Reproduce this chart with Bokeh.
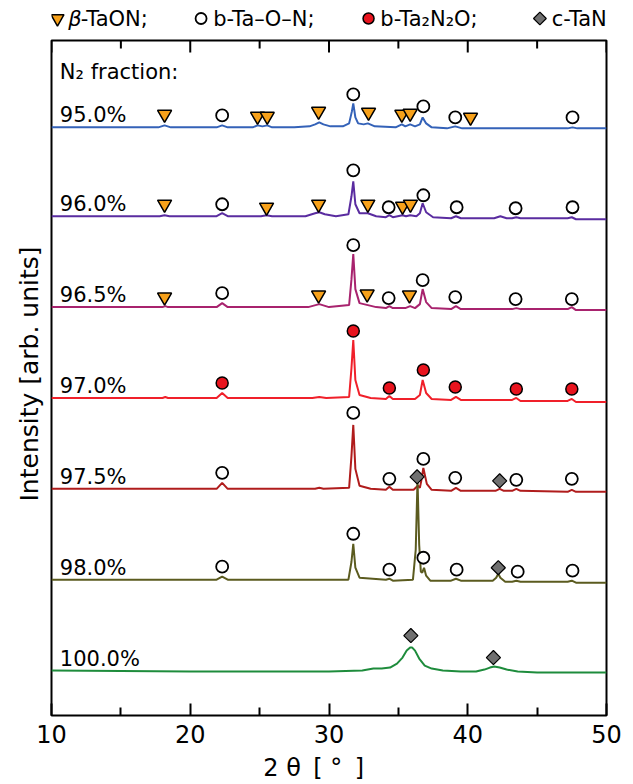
import math
from bokeh.plotting import figure
from bokeh.layouts import column
from bokeh.models import (Range1d, LinearAxis, FixedTicker, Label, ColumnDataSource, Title)
from bokeh.embed import file_html
from bokeh.resources import INLINE
from bokeh.core.properties import value

FONT = "DejaVu Sans"

# ---------------- data ----------------
fractions = ["95.0%", "96.0%", "96.5%", "97.0%", "97.5%", "98.0%", "100.0%"]
offsets = [589, 500, 409, 318, 227, 136, 45]
colors = ["#3462b8", "#5a2ca0", "#a8236e", "#f0202a", "#b01c1c", "#5b5b1f", "#1e8c3c"]

x_950 = [10, 14, 17.7, 18.15, 18.6, 21.9, 22.3, 22.7, 24.5, 24.85, 25.2, 25.55, 25.9,
         27.5, 28.6, 29.0, 29.3, 29.6, 30.1, 31.0, 31.45, 31.65, 31.75, 31.9, 32.1,
         32.5, 32.8, 33.3, 34.8, 35.25, 35.5, 35.85, 36.2, 36.55, 36.75, 37.0, 37.4,
         38.5, 39.1, 39.6, 42, 47.2, 47.55, 47.9, 50]
y_950 = [0, 0, 0, 2, 0, 0, 2, 0, 0, 2, 1, 2, 0,
         0, 1, 3, 5, 3, 1, 1, 4, 16, 24, 10, 4,
         3, 4, 1, 0, 3, 1, 3, 1, 3, 10, 4, 0,
         -1, 1, -1, -1, -1, 0, -1, -1]

x_960 = [10, 17.8, 18.15, 18.5, 21.9, 22.3, 22.7, 25.1, 25.5, 25.9, 28.3, 29.0, 29.3,
         29.7, 30.5, 31.4, 31.62, 31.75, 31.9, 32.2, 32.8, 33.4, 34.1, 34.35, 34.6,
         35.3, 35.55, 35.85, 36.3, 36.55, 36.75, 37.0, 37.5, 38.8, 39.15, 39.5, 41.9,
         42.35, 42.8, 43.2, 43.5, 43.8, 47.2, 47.5, 47.8, 50]
y_960 = [0, 0, 1, 0, 0, 3, 0, 0, 1, 0, 0, 3, 4,
         2, 0, 2, 20, 35, 12, 3, 3, 0, -1, 1, -1,
         1, 0, 1, 0, 3, 13, 4, -1, -2, 0, -2, -2,
         0, -2, -2, -1, -2, -2, -1, -3, -3]

x_965 = [10, 18.0, 18.2, 18.4, 21.9, 22.3, 22.7, 28.5, 29.3, 30.0, 31.45, 31.62, 31.75,
         31.9, 32.2, 32.8, 33.4, 34.1, 34.35, 34.6, 35.5, 35.85, 36.2, 36.55, 36.75,
         37.0, 37.4, 38.8, 39.15, 39.5, 43.2, 43.5, 43.8, 47.2, 47.5, 47.8, 50]
y_965 = [0, 0, 1, 0, 0, 4, 0, 0, 3, 0, 2, 28, 53,
         18, 4, 2, 0, -1, 1, -1, -1, 1, -1, 3, 18,
         5, -1, -2, 1, -2, -2, -1, -2, -2, 0, -3, -3]

x_970 = [10, 18.0, 18.2, 18.4, 21.9, 22.3, 22.7, 28.8, 29.3, 29.8, 31.45, 31.62, 31.75,
         31.9, 32.2, 33.0, 34.1, 34.35, 34.6, 36.2, 36.55, 36.75, 37.0, 37.4, 38.8,
         39.15, 39.5, 43.2, 43.5, 43.8, 47.2, 47.5, 47.8, 50]
y_970 = [0, 0, 1, 0, 0, 5, 0, 0, 1, 0, 1, 30, 58,
         18, 3, 0, -1, 2, -1, -1, 3, 18, 5, -1, -2,
         1, -2, -2, 0, -3, -3, -1, -4, -4]

x_975 = [10, 21.9, 22.3, 22.7, 29.0, 29.3, 29.6, 31.45, 31.62, 31.75, 31.9, 32.2, 33.0,
         34.1, 34.35, 34.6, 36.1, 36.4, 36.55, 36.65, 36.8, 37.05, 37.4, 38.8, 39.15,
         39.5, 42.0, 42.3, 42.6, 43.2, 43.5, 43.8, 47.2, 47.5, 47.8, 50]
y_975 = [0, 0, 6, 0, 0, 1, 0, 1, 33, 64, 20, 3, 0,
         -1, 2, -1, -1, 3, 1, 8, 21, 5, -1, -2, 1,
         -2, -2, 0, -2, -2, 0, -2, -3, -1, -3, -3]

x_980 = [10, 21.9, 22.3, 22.7, 31.4, 31.62, 31.75, 31.9, 32.2, 34.1, 34.35, 34.6, 36.05,
         36.25, 36.38, 36.5, 36.62, 36.72, 36.85, 37.0, 37.3, 38.8, 39.15, 39.5, 41.8,
         42.05, 42.2, 42.35, 42.7, 43.2, 43.5, 43.8, 47.2, 47.5, 47.8, 50]
y_980 = [0, 0, 3, 0, 0, 18, 36, 12, 2, 0, 1, -1, 0,
         30, 100, 35, 8, 7, 12, 4, -1, -1, 1, -1, -1,
         2, 6, 2, -2, -2, -1, -2, -2, -1, -3, -3]

x_1000 = [10, 20, 30, 32.4, 33.2, 33.8, 34.4, 34.9, 35.3, 35.6, 35.85, 36.0, 36.2, 36.5,
          36.9, 37.4, 38.2, 39.5, 40.6, 41.2, 41.6, 41.9, 42.3, 42.8, 43.6, 45, 50]
y_1000 = [0, -1, -1, 0, 2, 2, 3, 7, 13, 20, 23, 23, 20, 12,
          5, 2, 0, -1, -1, 1, 3, 4, 3, 1, -1, -2, -2]

curves_x = [x_950, x_960, x_965, x_970, x_975, x_980, x_1000]
curves_y = [y_950, y_960, y_965, y_970, y_975, y_980, y_1000]

# phase markers: curve index, 2theta, height above curve baseline
tri_curve = [0, 0, 0, 0, 0, 0, 0, 0, 1, 1, 1, 1, 1, 1, 2, 2, 2, 2]
tri_x = [18.15, 24.85, 25.55, 29.25, 32.85, 35.25, 35.85, 40.2,
         18.15, 25.5, 29.25, 32.8, 35.3, 35.87,
         18.15, 29.25, 32.75, 35.8]
tri_h = [13, 11, 11, 16, 15, 13, 14, 10,
         12, 9, 12, 12, 10, 12,
         10, 12, 13, 12]

circ_curve = [0, 0, 0, 0, 0,
              1, 1, 1, 1, 1, 1, 1,
              2, 2, 2, 2, 2, 2, 2,
              4, 4, 4, 4, 4, 4, 4,
              5, 5, 5, 5, 5, 5, 5]
circ_x = [22.3, 31.75, 36.8, 39.1, 47.55,
          22.3, 31.75, 34.3, 36.8, 39.2, 43.45, 47.55,
          22.3, 31.75, 34.3, 36.75, 39.1, 43.45, 47.5,
          22.3, 31.75, 34.35, 36.8, 39.1, 43.5, 47.5,
          22.3, 31.75, 34.35, 36.8, 39.2, 43.6, 47.55]
circ_h = [12, 33, 21, 10, 10,
          12, 46, 9, 21, 9, 8, 9,
          14, 62, 9, 27, 10, 8, 8,
          16, 76, 10, 30, 11, 9, 10,
          13, 46, 10, 22, 10, 8, 9]

red_curve = [3, 3, 3, 3, 3, 3, 3]
red_x = [22.3, 31.75, 34.35, 36.8, 39.1, 43.5, 47.5]
red_h = [15, 67, 10, 28, 11, 9, 9]

dia_curve = [4, 4, 5, 6, 6]
dia_x = [36.35, 42.3, 42.2, 35.9, 41.85]
dia_h = [12, 8, 12, 35, 13]

phase_symbols = ["β", "", "", ""]
phase_labels = ["-TaON;", "b-Ta–O–N;", "b-Ta₂N₂O;", "c-TaN"]

major_ticks = [10, 20, 30, 40, 50]
minor_ticks = [15, 25, 35, 45]

# ---------------- legend strip (above the frame) ----------------
LEG_H = 36
leg = figure(width=633, height=LEG_H, x_range=Range1d(10, 50), y_range=Range1d(0, LEG_H),
             x_axis_type=None, y_axis_type=None, output_backend="svg",
             toolbar_location=None, min_border_left=51, min_border_right=27,
             min_border_top=0, min_border_bottom=0)
leg.outline_line_color = None
leg.xgrid.visible = False
leg.ygrid.visible = False

ly = 18
leg.scatter([10.43], [ly], marker="inverted_triangle", size=13, fill_color="#f7a11a",
            line_color="black", line_width=1.5)
leg.scatter([20.78], [ly], marker="circle", size=11, fill_color="white",
            line_color="black", line_width=1.8)
leg.scatter([32.85], [ly], marker="circle", size=11, fill_color="#e8141e",
            line_color="black", line_width=1.5)
leg.scatter([45.2], [ly], marker="square", size=9, angle=math.pi / 4,
            fill_color="#707070", line_color="black", line_width=1.2)
leg.text(x=[11.2], y=[ly], text=[phase_symbols[0]], text_font=value(FONT),
         text_font_size=value("21px"), text_font_style="italic",
         text_baseline="middle", text_align="left", text_color="black")
leg.text(x=[12.1, 21.65, 33.7, 46.05], y=[ly] * 4, text=phase_labels,
         text_font=value(FONT), text_font_size=value("21px"),
         text_baseline="middle", text_align="left", text_color="black")

# ---------------- main figure ----------------
p = figure(width=633, height=784 - LEG_H, x_range=Range1d(10, 50), y_range=Range1d(0, 676),
           y_axis_type=None, x_axis_location=None,
           output_backend="svg", toolbar_location=None,
           min_border_left=51, min_border_right=27, min_border_top=40 - LEG_H,
           min_border_bottom=68)
p.xgrid.visible = False
p.ygrid.visible = False
p.outline_line_color = "black"
p.outline_line_width = 2
p.background_fill_color = "white"
p.border_fill_color = "white"

ax = LinearAxis(ticker=FixedTicker(ticks=major_ticks, minor_ticks=minor_ticks))
ax.axis_line_color = None
ax.major_tick_in = 12
ax.major_tick_out = 0
ax.minor_tick_in = 8
ax.minor_tick_out = 0
ax.major_tick_line_width = 2
ax.minor_tick_line_width = 2
ax.major_tick_line_color = "black"
ax.minor_tick_line_color = "black"
ax.major_label_text_font = FONT
ax.major_label_text_font_size = "24px"
ax.major_label_text_color = "black"
ax.major_label_standoff = 9
ax.axis_label = "2\u00a0θ\u00a0\u2009[\u00a0°\u00a0\u2009]\u00a0\u00a0\u00a0\u00a0"
ax.axis_label_text_font = FONT
ax.axis_label_text_font_size = "24px"
ax.axis_label_text_font_style = "normal"
ax.axis_label_text_color = "black"
ax.axis_label_standoff = 8
p.add_layout(ax, "below")

# inward ticks on the top edge of the frame (frame is 676 px tall = 676 y units)
p.segment(x0=major_ticks, y0=[676] * len(major_ticks), x1=major_ticks,
          y1=[664] * len(major_ticks), line_color="black", line_width=2)
p.segment(x0=minor_ticks, y0=[676] * len(minor_ticks), x1=minor_ticks,
          y1=[668] * len(minor_ticks), line_color="black", line_width=2)

for xs, ys, off, col in zip(curves_x, curves_y, offsets, colors):
    p.line(xs, [off + v for v in ys], line_color=col, line_width=2)

lab_src = ColumnDataSource(dict(x=[10.6] * len(fractions),
                                y=[o + 12 for o in offsets], t=fractions))
p.text(x="x", y="y", text="t", source=lab_src, text_font=value(FONT),
       text_font_size=value("21px"), text_color="black",
       text_baseline="middle", text_align="left")

p.add_layout(Label(x=10.6, y=644, text="N₂ fraction:", text_font=FONT,
                   text_font_size="21px", text_color="black",
                   text_baseline="middle"))

p.scatter(tri_x, [offsets[c] + h for c, h in zip(tri_curve, tri_h)],
          marker="inverted_triangle", size=14, fill_color="#f7a11a",
          line_color="black", line_width=1.5)
p.scatter(circ_x, [offsets[c] + h for c, h in zip(circ_curve, circ_h)],
          marker="circle", size=12, fill_color="white",
          line_color="black", line_width=1.8)
p.scatter(red_x, [offsets[c] + h for c, h in zip(red_curve, red_h)],
          marker="circle", size=12, fill_color="#e8141e",
          line_color="black", line_width=1.5)
p.scatter(dia_x, [offsets[c] + h for c, h in zip(dia_curve, dia_h)],
          marker="square", size=10, angle=math.pi / 4, fill_color="#707070",
          line_color="black", line_width=1.2)

p.add_layout(Title(text="Intensity [arb. units]", align="left", offset=214,
                   text_font=FONT, text_font_size="25px", text_font_style="normal",
                   text_color="black", standoff=16), "left")

layout = column(leg, p, spacing=0)
open("out.html", "w").write(file_html(layout, INLINE))
